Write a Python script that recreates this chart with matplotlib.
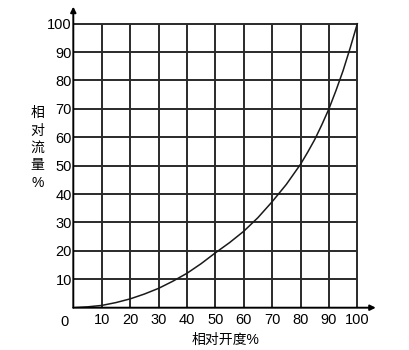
import matplotlib
matplotlib.use('Agg')
import matplotlib.pyplot as plt
import numpy as np

plt.rcParams['font.family'] = ['Liberation Sans', 'Noto Sans CJK SC', 'DejaVu Sans']

# opening (%) vs relative flow (%)
opening = [0, 5, 10, 15, 20, 25, 30, 35, 40, 45, 50, 55, 60, 65, 70, 75, 80,
           82.5, 85, 87.5, 90, 92.5, 95, 97.5, 100]
flow = [0, 0.3, 0.8, 1.8, 3.1, 4.8, 6.8, 9.3, 12.1, 15.5, 19.3, 22.9, 26.9, 31.7,
        37.3, 43.4, 50.5, 54.7, 59.2, 64.4, 70.0, 76.5, 83.5, 91.5, 100.0]

ticks = [0, 10, 20, 30, 40, 50, 60, 70, 80, 90, 100]
tick_labels = [str(t) for t in ticks]
xlabel = '相对开度%'
ylabel = '相\n对\n流\n量\n%'

fig = plt.figure(figsize=(4.1, 3.5), dpi=100)
ax = fig.add_axes([73.3 / 410, 42.3 / 350, 303.9 / 410, 303.9 / 350])
ax.set_xlim(0, 107)
ax.set_ylim(0, 107)
for s in ax.spines.values():
    s.set_visible(False)

grid_c = '#2a2a2a'
ax.vlines(ticks[1:], 0, 100, color=grid_c, lw=1.4)
ax.hlines(ticks[1:], 0, 100, color=grid_c, lw=1.4)

# axes with arrows
ax.annotate('', xy=(106.5, 0), xytext=(0, 0),
            arrowprops=dict(arrowstyle='-|>', color='black', lw=1.4,
                            mutation_scale=8, shrinkA=0, shrinkB=0))
ax.annotate('', xy=(0, 106), xytext=(0, 0),
            arrowprops=dict(arrowstyle='-|>', color='black', lw=1.4,
                            mutation_scale=8, shrinkA=0, shrinkB=0))

ax.plot(opening, flow, color='#1a1a1a', lw=1.1)

ax.set_xticks(ticks[1:])
ax.set_xticklabels(tick_labels[1:], fontsize=10.5)
ax.set_yticks(ticks[1:])
ax.set_yticklabels(tick_labels[1:], fontsize=10.5)
ax.tick_params(axis='x', length=0, pad=4)
ax.tick_params(axis='y', length=0, pad=1)
ax.text(-1.5, -2.5, '0', ha='right', va='top', fontsize=10.5)

fig.text(226 / 410, 1 - 340 / 350, xlabel, ha='center', va='center', fontsize=10)
fig.text(37.5 / 410, 1 - 148 / 350, ylabel, ha='center', va='center',
         fontsize=10, linespacing=1.3, multialignment='center')

fig.savefig('out.png', dpi=100)
